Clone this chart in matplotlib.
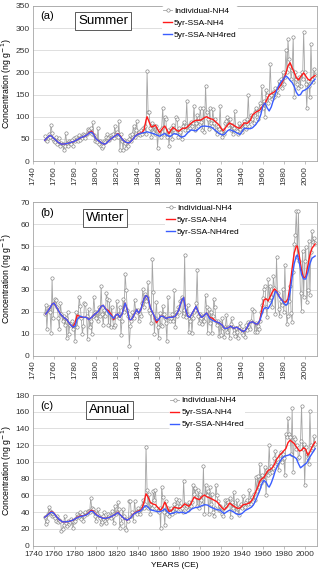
import matplotlib
matplotlib.use("Agg")
import matplotlib.pyplot as plt

plt.rcParams['font.family'] = ['Liberation Sans', 'DejaVu Sans']

# ---------------- data ----------------
years = list(range(1751, 2011))

summer_ind = [
    57, 47, 45, 52, 60, 55, 82, 63, 50, 45,
    42, 55, 38, 45, 52, 33, 40, 38, 25, 35,
    63, 40, 35, 45, 42, 38, 48, 35, 52, 45,
    55, 50, 45, 58, 48, 55, 52, 60, 58, 52,
    62, 72, 70, 65, 75, 60, 87, 58, 45, 50,
    42, 75, 38, 45, 35, 30, 33, 45, 42, 55,
    60, 52, 48, 58, 55, 60, 52, 78, 62, 65,
    55, 91, 25, 60, 45, 25, 48, 40, 30, 45,
    35, 50, 58, 45, 62, 80, 55, 70, 90, 60,
    65, 58, 70, 62, 75, 68, 78, 60, 203, 110,
    110, 75, 55, 85, 65, 78, 60, 80, 30, 65,
    70, 55, 75, 120, 60, 100, 95, 55, 70, 35,
    62, 75, 50, 82, 70, 65, 100, 95, 55, 75,
    65, 50, 80, 88, 70, 78, 135, 70, 82, 75,
    88, 80, 85, 125, 70, 85, 105, 80, 90, 120,
    88, 70, 120, 65, 170, 110, 95, 72, 120, 85,
    78, 118, 85, 95, 70, 60, 80, 72, 125, 65,
    55, 70, 60, 85, 90, 100, 82, 95, 70, 82,
    60, 75, 112, 70, 68, 60, 85, 72, 80, 65,
    75, 90, 80, 72, 95, 150, 80, 90, 105, 95,
    85, 110, 120, 100, 95, 115, 130, 125, 170, 120,
    135, 100, 160, 150, 130, 145, 220, 150, 140, 155,
    145, 165, 160, 150, 180, 170, 185, 165, 200, 175,
    190, 250, 200, 275, 230, 215, 185, 205, 280, 145,
    200, 185, 175, 165, 190, 170, 200, 185, 292, 200,
    175, 120, 180, 170, 145, 265, 185, 178, 208, 195,
]

summer_red_yr = [1751, 1754, 1756, 1758, 1761, 1764, 1767, 1770, 1773, 1776, 1779, 1782, 1785, 1788,
                 1791, 1794, 1796, 1798, 1800, 1803, 1806, 1808, 1810, 1813, 1816, 1818, 1821, 1823,
                 1826, 1829, 1832, 1835, 1838, 1841, 1844, 1846, 1848, 1849, 1851, 1853, 1855, 1857,
                 1859, 1861, 1864, 1866, 1868, 1870, 1872, 1874, 1877, 1879, 1881, 1883, 1886, 1889,
                 1891, 1894, 1896, 1899, 1901, 1904, 1906, 1909, 1912, 1915, 1918, 1920, 1922, 1925,
                 1928, 1931, 1933, 1936, 1938, 1940, 1942, 1945, 1948, 1950, 1953, 1957, 1959, 1962,
                 1964, 1966, 1968, 1971, 1974, 1977, 1980, 1982, 1984, 1986, 1988, 1990, 1992, 1994,
                 1996, 1999, 2001, 2003, 2005, 2007, 2010]
summer_red_val = [47, 54, 58, 55, 48, 42, 38, 38.5, 40, 42, 44, 48, 52, 55,
                  58, 65, 67, 60, 50, 45, 40, 38, 40, 47, 53, 56, 62, 57,
                  47, 42, 41, 48, 57, 62, 64, 70, 92, 100, 88, 77, 78, 81,
                  72, 64, 74, 79, 70, 62, 70, 76, 70, 67, 70, 74, 74, 80,
                  85, 90, 92, 92, 93, 98, 100, 96, 94, 88, 81, 74, 68, 78,
                  86, 82, 79, 75, 74, 80, 86, 85, 92, 104, 110, 115, 122, 130,
                  140, 149, 152, 156, 162, 171, 185, 198, 215, 222, 210, 200, 188, 183,
                  190, 199, 192, 185, 182, 188, 193]

summer_blue_yr = [1751, 1754, 1756, 1758, 1761, 1764, 1767, 1770, 1773, 1776, 1779, 1782, 1785, 1788,
                  1791, 1794, 1796, 1798, 1800, 1803, 1806, 1808, 1810, 1813, 1816, 1818, 1821, 1823,
                  1826, 1829, 1832, 1835, 1838, 1841, 1844, 1846, 1849, 1852, 1855, 1858, 1861, 1864,
                  1866, 1868, 1871, 1873, 1875, 1878, 1880, 1882, 1885, 1888, 1891, 1894, 1896, 1899,
                  1901, 1904, 1907, 1910, 1912, 1915, 1918, 1921, 1923, 1926, 1928, 1931, 1933, 1936,
                  1938, 1940, 1942, 1945, 1948, 1950, 1953, 1956, 1958, 1960, 1962, 1964, 1966, 1968,
                  1971, 1974, 1977, 1980, 1982, 1984, 1986, 1988, 1990, 1992, 1994, 1996, 1998, 2000,
                  2002, 2004, 2006, 2008, 2010]
summer_blue_val = [47, 54, 58, 55, 48, 42, 38, 38.5, 40, 42, 44, 48, 52, 55,
                   58, 64, 65, 59, 50, 45, 40, 38, 40, 47, 53, 56, 61, 56,
                   47, 42, 41, 48, 57, 61, 63, 64, 66, 64, 62, 59, 56, 60,
                   62, 58, 55, 59, 62, 60, 57, 54, 56, 64, 70, 69, 68, 74,
                   78, 79, 78, 77, 74, 68, 62, 59, 60, 68, 71, 68, 66, 62,
                   60, 66, 74, 73, 73, 75, 82, 92, 105, 125, 131, 120, 113, 122,
                   145, 165, 178, 186, 192, 188, 182, 177, 168, 155, 148, 150, 158, 160,
                   163, 167, 173, 180, 185]

winter_ind = [
    19, 23, 12, 21, 22, 20, 10.5, 35.5, 17, 24,
    26, 25.5, 22, 17, 12, 24, 19, 16, 18, 14,
    17, 8, 20, 10, 14, 15, 16, 12, 14, 6.5,
    20, 13, 18, 27, 22.5, 17, 10, 13.5, 24, 23.5,
    18, 7.5, 21.5, 13, 16, 10, 18, 27, 20, 17,
    20, 16, 22, 18, 32, 19, 14, 21, 18, 28.5,
    26, 14, 25.5, 13, 22, 17, 13, 14, 18, 25,
    19, 17, 22, 9.5, 16, 26, 20, 37.5, 30, 21,
    18, 4.5, 13.5, 16, 20, 17, 25.5, 21, 20, 21,
    16, 19, 18, 24, 30.5, 22, 28, 25, 27, 33.5,
    21, 19.5, 15, 44, 29, 10, 17, 24.5, 13, 8,
    19.5, 14, 13.5, 22.5, 19, 17, 15, 6.5, 27, 17,
    16, 17, 19, 16, 30, 13, 20, 18, 22, 20,
    25, 27, 18, 21, 46, 17.5, 19, 23, 11, 16,
    18, 10.5, 17, 20, 21, 24, 39, 18, 15, 19,
    17, 14.5, 18, 16, 27.5, 22, 10.5, 21.5, 15, 20,
    10.5, 18, 26, 22, 16, 14, 16, 9, 15, 9.5,
    17, 12.5, 8.5, 13, 18.5, 11, 13, 8, 14.5, 17,
    13, 10.5, 9, 12.5, 11, 8, 13, 15, 12, 10.5,
    9.5, 12, 8.5, 14, 11.5, 15.5, 13, 12, 16, 21.5,
    20.5, 11, 15, 11, 13.5, 12, 16, 20, 23, 26.5,
    30.5, 32, 22, 17.5, 35, 25.5, 32, 27, 22, 36.5,
    31, 19, 45, 28.5, 21.5, 18, 25, 23, 30.5, 20,
    41.5, 24, 14.5, 18, 25, 32, 19.5, 15.5, 38, 51,
    55, 66, 45, 66, 43, 28.5, 20.5, 48, 27, 43,
    49.5, 24.5, 30, 52.5, 27.5, 47.5, 57, 52, 53.5, 51.5,
]

winter_blue_yr = [1752, 1755, 1758, 1760, 1763, 1766, 1769, 1772, 1775, 1778, 1780, 1782, 1785, 1788,
                  1791, 1793, 1796, 1799, 1802, 1805, 1807, 1809, 1812, 1815, 1817, 1819, 1821, 1823,
                  1825, 1828, 1830, 1832, 1834, 1837, 1839, 1841, 1843, 1846, 1848, 1850, 1852, 1855,
                  1858, 1860, 1862, 1864, 1867, 1870, 1873, 1876, 1879, 1882, 1884, 1886, 1888, 1890,
                  1893, 1896, 1898, 1901, 1903, 1906, 1909, 1912, 1915, 1918, 1921, 1923, 1926, 1929,
                  1932, 1935, 1938, 1941, 1943, 1945, 1947, 1950, 1953, 1955, 1957, 1959, 1961, 1963,
                  1965, 1968, 1970, 1972, 1974, 1976, 1978, 1980, 1982, 1984, 1986, 1988, 1990, 1992,
                  1993, 1995, 1997, 1999, 2001, 2003, 2005, 2007, 2010]
winter_blue_val = [19, 21, 23.5, 24, 21.5, 19, 17.5, 16.5, 14.5, 13, 13.5, 16.5, 18, 17.5,
                   17.5, 16.5, 17.5, 19, 20, 22.5, 23, 21.5, 19.5, 18, 17, 18.5, 19, 17.5,
                   19, 24, 21, 16.5, 16.5, 19, 21, 19.5, 21, 26, 27.5, 26.5, 22, 19,
                   16, 16.5, 18, 18, 17, 17.5, 17.5, 18, 20.5, 25, 26.5, 21, 18, 17.5,
                   20, 22.5, 20, 17.5, 18, 19.5, 17, 16, 15.5, 15, 14, 12.5, 12.5, 13.5,
                   12.5, 13, 12, 11, 11.5, 13, 15, 15.5, 14.5, 14.5, 16, 19, 21.5, 22,
                   21.5, 24, 26.5, 29.5, 28.5, 26.5, 25.5, 24, 23, 24, 29, 36, 42, 45.5,
                   46, 42, 37, 35, 35, 38, 42, 44.5, 45.5]

winter_red_yr = [1752, 1755, 1758, 1760, 1763, 1766, 1769, 1772, 1775, 1778, 1780, 1782, 1784, 1786,
                 1788, 1791, 1793, 1796, 1799, 1802, 1805, 1807, 1809, 1812, 1815, 1817, 1819, 1821,
                 1823, 1825, 1828, 1830, 1832, 1834, 1837, 1839, 1841, 1843, 1846, 1848, 1850, 1852,
                 1855, 1858, 1860, 1862, 1864, 1867, 1870, 1873, 1876, 1879, 1882, 1884, 1886, 1888,
                 1890, 1893, 1896, 1898, 1901, 1903, 1906, 1909, 1912, 1915, 1918, 1921, 1923, 1926,
                 1929, 1932, 1935, 1938, 1941, 1943, 1945, 1947, 1950, 1953, 1955, 1957, 1959, 1961,
                 1963, 1965, 1967, 1969, 1971, 1973, 1975, 1977, 1980, 1982, 1984, 1986, 1988, 1990,
                 1992, 1993, 1995, 1997, 1999, 2001, 2003, 2005, 2007, 2010]
winter_red_val = [19, 21, 23.5, 24, 21.5, 19, 17.5, 16.5, 14.5, 13, 15, 18.5, 18, 17.5,
                  17.5, 17.5, 16.5, 17.5, 19, 20, 22.5, 23, 21.5, 20.5, 18.5, 16.5, 18.5, 19,
                  17.5, 19, 24, 21, 16.5, 16.5, 19, 21, 19.5, 21, 26, 27.5, 26.5, 22,
                  19, 15, 16.5, 18, 18, 17, 17.5, 17.5, 18, 20.5, 25, 26.5, 21, 18,
                  17.5, 20, 22.5, 20, 17.5, 18, 19.5, 17.5, 17, 15.5, 15, 14, 12.5, 12.5,
                  13.5, 12.5, 13, 12, 11, 11.5, 13, 15, 15.5, 14.5, 14.5, 16, 21, 25.5,
                  26, 25, 27, 29, 30.5, 29.5, 27.5, 26, 24.5, 24.5, 26, 32, 40, 47,
                  50, 50, 45, 39, 35.5, 36, 41, 46, 49, 51]

annual_ind = [
    34, 26, 29, 38, 46, 41, 40, 35, 38, 36,
    33, 30, 35, 28, 31, 30, 18, 20, 25, 36,
    27, 23, 30, 26, 28, 32, 29, 21, 28, 30,
    33, 38, 36, 34, 40, 32, 38, 30, 36, 40,
    38, 41, 42, 40, 57, 45, 44, 40, 35, 30,
    38, 44, 35, 33, 26, 28, 35, 40, 30, 27,
    33, 38, 36, 33, 41, 35, 27, 48, 38, 40,
    52, 44, 21, 27, 33, 44, 35, 21, 19, 32,
    30, 53, 53, 35, 40, 30, 53, 40, 38, 45,
    42, 38, 44, 48, 55, 45, 50, 118, 67, 45,
    62, 38, 50, 45, 65, 55, 67, 45, 42, 40,
    45, 21, 70, 58, 40, 25, 53, 38, 45, 35,
    40, 45, 38, 42, 50, 40, 56, 48, 42, 55,
    47, 45, 40, 77, 50, 45, 48, 43, 52, 47,
    48, 52, 73, 62, 69, 58, 47, 66, 45, 62,
    55, 50, 95, 38, 72, 60, 65, 38, 70, 50,
    62, 40, 35, 45, 73, 60, 53, 43, 48, 42,
    38, 35, 45, 55, 48, 55, 52, 57, 34, 52,
    45, 64, 48, 40, 55, 45, 37, 48, 50, 45,
    59, 48, 46, 52, 55, 50, 67, 55, 50, 58,
    62, 55, 82, 65, 83, 70, 98, 75, 85, 80,
    78, 94, 60, 90, 85, 120, 87, 95, 88, 93,
    105, 113, 98, 100, 90, 108, 112, 100, 110, 105,
    84, 134, 130, 152, 133, 130, 110, 164, 88, 130,
    128, 115, 120, 105, 106, 125, 167, 115, 122, 72,
    118, 110, 105, 97, 161, 120, 114, 117, 131, 122,
]

annual_red_yr = [1751, 1754, 1757, 1759, 1762, 1765, 1768, 1771, 1774, 1777, 1780, 1783, 1786, 1789,
                 1792, 1795, 1797, 1800, 1803, 1806, 1809, 1812, 1815, 1818, 1821, 1824, 1827, 1830,
                 1833, 1836, 1839, 1842, 1844, 1846, 1848, 1850, 1852, 1854, 1857, 1859, 1862, 1864,
                 1866, 1868, 1870, 1872, 1875, 1878, 1880, 1882, 1885, 1887, 1889, 1891, 1894, 1897,
                 1899, 1902, 1904, 1907, 1910, 1913, 1916, 1919, 1921, 1923, 1926, 1928, 1930, 1933,
                 1936, 1938, 1941, 1944, 1947, 1950, 1952, 1955, 1957, 1959, 1961, 1963, 1965, 1967,
                 1969, 1971, 1973, 1976, 1979, 1982, 1984, 1986, 1988, 1990, 1992, 1995, 1997, 1999,
                 2001, 2003, 2005, 2007, 2010]
annual_red_val = [34, 37, 40.5, 40, 35, 31, 28.5, 28.5, 29, 30, 32, 34.5, 35.5, 36,
                  38, 42, 42, 37.5, 35, 33, 32.5, 33.5, 35, 37, 40, 36, 32.5, 30.5,
                  33, 38, 40.5, 42, 44, 52, 62, 58, 52, 50, 49, 46, 42.5, 46,
                  52, 47, 41, 41.5, 46, 45, 44.5, 46, 50, 48.5, 47, 50, 58, 56,
                  55, 59, 60.5, 58, 56.5, 54.5, 52.5, 48, 45, 43, 47, 51, 49, 46.5,
                  44.5, 45, 49, 49.5, 51, 55, 61, 70, 77, 80, 81.5, 86, 90, 91,
                  93, 97, 103, 108, 112, 116, 123, 126, 124, 122, 118, 113, 114, 117,
                  115, 108, 112, 118, 124]

annual_blue_yr = [1751, 1754, 1757, 1759, 1762, 1765, 1768, 1771, 1774, 1777, 1780, 1783, 1786, 1789,
                  1792, 1795, 1797, 1800, 1803, 1806, 1809, 1812, 1815, 1818, 1821, 1824, 1827, 1830,
                  1833, 1836, 1839, 1842, 1844, 1846, 1848, 1850, 1852, 1855, 1858, 1861, 1864, 1866,
                  1868, 1871, 1874, 1877, 1880, 1883, 1886, 1889, 1892, 1895, 1898, 1901, 1904, 1907,
                  1910, 1913, 1916, 1919, 1921, 1923, 1926, 1928, 1931, 1934, 1937, 1940, 1943, 1946,
                  1949, 1951, 1953, 1955, 1957, 1959, 1961, 1963, 1965, 1966, 1968, 1970, 1972, 1975,
                  1978, 1981, 1984, 1986, 1988, 1990, 1992, 1994, 1996, 1998, 2000, 2002, 2004, 2006,
                  2008, 2010]
annual_blue_val = [34, 37, 40, 39.5, 35, 31, 28.5, 28.5, 29, 30, 32, 34, 35, 36,
                   37.5, 41, 41, 37, 35, 33, 32.5, 33.5, 35, 37, 39.5, 36, 32.5, 30.5,
                   33, 37.5, 40, 41, 43, 46, 48, 46, 43, 42, 41, 40.5, 42, 44,
                   41, 38, 39, 40.5, 39.5, 40, 38.5, 41, 44, 45.5, 46, 47.5, 49, 48.5,
                   46, 44.5, 43, 42.5, 40, 38.5, 41, 42.5, 41, 38.5, 37, 38.5, 42, 44,
                   46, 49, 54, 60, 66, 74, 78, 76, 71, 70, 75, 82, 90, 98,
                   104, 107, 108, 109, 107, 106, 104, 98, 93, 95, 97, 99, 104, 108,
                   112, 116]

x_ticks = list(range(1740, 2001, 20))

# ---------------- figure ----------------
W, H = 320, 579
fig = plt.figure(figsize=(W / 100, H / 100), dpi=100)

GRAY_LINE = '#a6a6a6'
RED = '#ff1a1a'
BLUE = '#3a5dff'


def px_axes(left, top, right, bottom):
    return fig.add_axes([left / W, 1 - bottom / H, (right - left) / W, (bottom - top) / H])


def panel(ax, ind, ry, rv, by, bv, ymax, ystep, tag, title, title_xy, tag_xy,
          leg_anchor, rotate):
    ax.plot(years, ind, color=GRAY_LINE, lw=0.6, marker='o', ms=2.4,
            mfc='white', mec='#808080', mew=0.45, label='Individual-NH4', zorder=2)
    ax.plot(ry, rv, color=RED, lw=1.0, label='5yr-SSA-NH4', zorder=3)
    ax.plot(by, bv, color=BLUE, lw=1.0, label='5yr-SSA-NH4red', zorder=4)
    ax.set_xlim(1740, 2011.8)
    ax.set_ylim(0, ymax)
    ax.set_yticks(list(range(0, ymax + 1, ystep)))
    ax.set_xticks(x_ticks)
    ax.grid(axis='y', color='#d9d9d9', lw=0.6, zorder=0)
    ax.set_axisbelow(True)
    for s in ax.spines.values():
        s.set_color('#a6a6a6')
        s.set_linewidth(0.6)
    ax.tick_params(axis='y', length=0, labelsize=6, pad=2.5, labelcolor='#333333')
    ax.tick_params(axis='x', length=2, width=0.5, color='#a6a6a6', labelsize=6,
                   pad=1.5, labelcolor='#333333')
    if rotate:
        for lab in ax.get_xticklabels():
            lab.set_rotation(90)
    ax.text(tag_xy[0], tag_xy[1], tag, transform=ax.transAxes, fontsize=8,
            ha='left', va='center')
    ax.text(title_xy[0], title_xy[1], title, transform=ax.transAxes, fontsize=9.5,
            ha='center', va='center',
            bbox=dict(boxstyle='square,pad=0.22', fc='white', ec='#404040', lw=0.6))
    leg = ax.legend(loc='upper left', bbox_to_anchor=leg_anchor, fontsize=6,
                    frameon=True, framealpha=1, facecolor='white', edgecolor='none',
                    handlelength=1.1, handletextpad=0.2, labelspacing=0.5,
                    borderpad=0.1, borderaxespad=0)
    leg.get_frame().set_linewidth(0)
    pos = ax.get_position()
    fig.text(6.5 / W, (pos.y0 + pos.y1) / 2, 'Concentration (ng g$^{-1}$)',
             rotation=90, fontsize=6.3, ha='center', va='center')


ax1 = px_axes(33.3, 6, 317, 161)
panel(ax1, summer_ind, summer_red_yr, summer_red_val, summer_blue_yr, summer_blue_val,
      350, 50, '(a)', 'Summer', (0.246, 0.903), (0.025, 0.935), (0.455, 1.0), True)

ax2 = px_axes(33.3, 202.3, 317, 355.7)
panel(ax2, winter_ind, winter_red_yr, winter_red_val, winter_blue_yr, winter_blue_val,
      70, 10, '(b)', 'Winter', (0.253, 0.9), (0.025, 0.93), (0.465, 0.995), True)

ax3 = px_axes(33.3, 395, 317, 545.7)
panel(ax3, annual_ind, annual_red_yr, annual_red_val, annual_blue_yr, annual_blue_val,
      180, 20, '(c)', 'Annual', (0.27, 0.9), (0.025, 0.93), (0.48, 0.995), False)
ax3.set_xlabel('YEARS (CE)', fontsize=6, labelpad=3)

fig.savefig('out.png', dpi=100)
